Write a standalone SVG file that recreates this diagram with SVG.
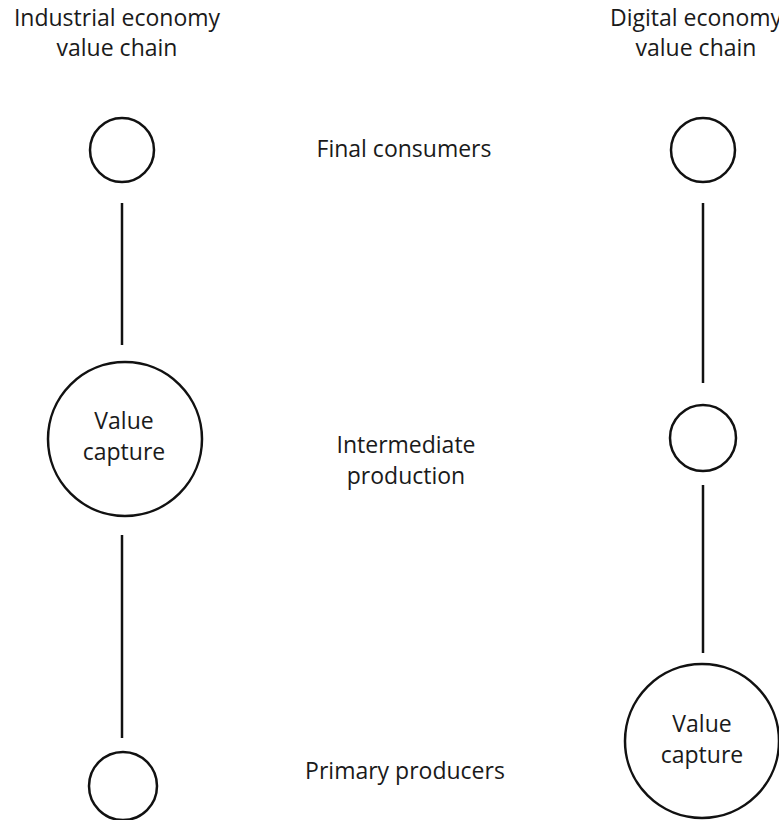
<svg xmlns="http://www.w3.org/2000/svg" width="779" height="820" viewBox="0 0 779 820">
<style>
.n{fill:none;stroke:#111;stroke-width:2.5}
.c line{stroke:#111;stroke-width:2.5}
text{font-family:"Open Sans","Noto Sans",sans-serif;font-size:23px;fill:#1a1a1a;text-anchor:middle}
</style>
<rect width="779" height="820" fill="#fff"/>
<g id="title-industrial"><text x="117" y="26">Industrial economy</text><text x="117" y="56">value chain</text></g>
<g id="title-digital"><text x="696" y="26">Digital economy</text><text x="696" y="56">value chain</text></g>
<g id="label-final"><text x="404" y="157">Final consumers</text></g>
<g id="label-intermediate"><text x="406" y="453">Intermediate</text><text x="406" y="484">production</text></g>
<g id="label-primary"><text x="405" y="779">Primary producers</text></g>
<g class="c" id="connectors">
<line x1="122" y1="203" x2="122" y2="345"/>
<line x1="122" y1="535" x2="122" y2="738"/>
<line x1="703" y1="203" x2="703" y2="383"/>
<line x1="703" y1="485" x2="703" y2="653"/>
</g>
<g id="ind-final"><circle class="n" cx="122" cy="150" r="32"/></g>
<g id="ind-intermediate"><circle class="n" cx="125" cy="439" r="77"/><text x="124" y="429">Value</text><text x="124" y="460">capture</text></g>
<g id="ind-primary"><circle class="n" cx="123" cy="786" r="34"/></g>
<g id="dig-final"><circle class="n" cx="703" cy="150" r="32"/></g>
<g id="dig-intermediate"><circle class="n" cx="703" cy="438" r="33"/></g>
<g id="dig-primary"><circle class="n" cx="702" cy="741" r="77"/><text x="702" y="732">Value</text><text x="702" y="763">capture</text></g>
</svg>
